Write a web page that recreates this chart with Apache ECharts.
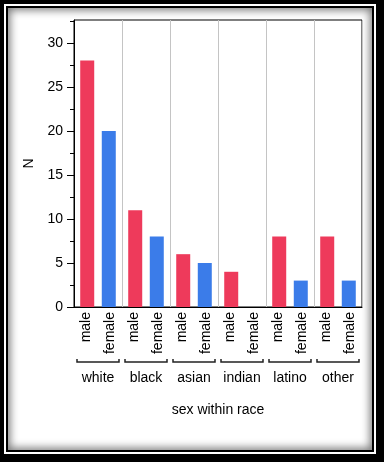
<!DOCTYPE html>
<html><head><meta charset="utf-8">
<script src="https://cdn.jsdelivr.net/npm/echarts@6/dist/echarts.min.js"></script>
<style>
html,body{margin:0;padding:0;background:#000;}
#frame{position:absolute;left:0;top:0;width:384px;height:462px;background:#000;}
#r1{position:absolute;left:4px;top:4px;right:8px;bottom:8px;background:#fff;}
#r2{position:absolute;left:2px;top:2px;right:2px;bottom:2px;background:#000;}
#r3{position:absolute;left:2px;top:2px;right:2px;bottom:2px;background:#fff;box-shadow:inset 0 0 8px 2px #777;}
#chart{position:absolute;left:0;top:0;width:384px;height:462px;}
</style></head>
<body>
<div id="frame"><div id="r1"><div id="r2"><div id="r3"></div></div></div></div>
<div id="chart"></div>
<script>
const races = ['white', 'black', 'asian', 'indian', 'latino', 'other'];
const sexes = ['male', 'female'];
const maleN = [28, 11, 6, 4, 8, 8];
const femaleN = [20, 8, 5, 0, 3, 3];
const yTicks = [0, 5, 10, 15, 20, 25, 30];
const yMinorTicks = [2.5, 7.5, 12.5, 17.5, 22.5, 27.5, 32.5];

const FONT = 'Liberation Sans, Arial, sans-serif';
const RED = '#EE3A5B';
const BLUE = '#3B7CE9';

const sexCats = [];
races.forEach(() => { sexCats.push(sexes[0]); sexCats.push(sexes[1]); });

const chart = echarts.init(document.getElementById('chart'), null, {renderer: 'canvas'});
const option = {
  animation: false,
  backgroundColor: 'transparent',
  textStyle: {fontFamily: FONT},
  grid: {left: 74, top: 20, right: 22, bottom: 155, show: true, borderColor: '#000', borderWidth: 1, backgroundColor: 'transparent'},
  xAxis: [
    {
      type: 'category', data: sexCats, position: 'bottom',
      axisLine: {show: true, lineStyle: {color: '#000', width: 1}},
      axisTick: {show: false},
      axisLabel: {rotate: 90, interval: 0, margin: 5, fontSize: 14, color: '#000', fontFamily: FONT},
      splitLine: {show: false}
    },
    {
      type: 'category', data: races, position: 'bottom',
      axisLine: {show: false}, axisTick: {show: false},
      axisLabel: {interval: 0, margin: 64, fontSize: 14, color: '#000', fontFamily: FONT},
      splitLine: {show: true, interval: 0, lineStyle: {color: '#c4c4c4', width: 1}},
      name: 'sex within race', nameLocation: 'middle', nameGap: 96,
      nameTextStyle: {fontSize: 14, color: '#000', fontFamily: FONT}
    }
  ],
  yAxis: [
    {
      type: 'value', min: 0, max: 32.6, interval: 5, position: 'left',
      axisLine: {show: true, lineStyle: {color: '#000', width: 1}},
      axisTick: {show: true, length: 7, customValues: yTicks, lineStyle: {color: '#000'}},
      axisLabel: {customValues: yTicks, margin: 11, fontSize: 14, color: '#000', fontFamily: FONT},
      splitLine: {show: false},
      name: 'N', nameLocation: 'middle', nameRotate: 90, nameGap: 32,
      nameTextStyle: {fontSize: 14, color: '#000', fontFamily: FONT}
    },
    {
      type: 'value', min: 0, max: 32.6, position: 'left',
      axisLine: {show: false},
      axisTick: {show: true, length: 4, customValues: yMinorTicks, lineStyle: {color: '#000'}},
      axisLabel: {show: false},
      splitLine: {show: false}
    }
  ],
  series: [
    {name: 'male', type: 'bar', xAxisIndex: 1, yAxisIndex: 0, data: maleN, barWidth: 14, barGap: '54%', itemStyle: {color: RED}},
    {name: 'female', type: 'bar', xAxisIndex: 1, yAxisIndex: 0, data: femaleN, barWidth: 14, barGap: '54%', itemStyle: {color: BLUE}}
  ]
};
chart.setOption(option);

// group brackets under each race
const brackets = races.map((r) => {
  const cx = chart.convertToPixel({xAxisIndex: 1}, r);
  return {
    type: 'polyline',
    shape: {points: [[cx - 21, 359], [cx - 21, 362], [cx + 21, 362], [cx + 21, 359]]},
    style: {stroke: '#222', lineWidth: 1.5, fill: null}
  };
});
chart.setOption({graphic: brackets});
</script>
</body></html>
